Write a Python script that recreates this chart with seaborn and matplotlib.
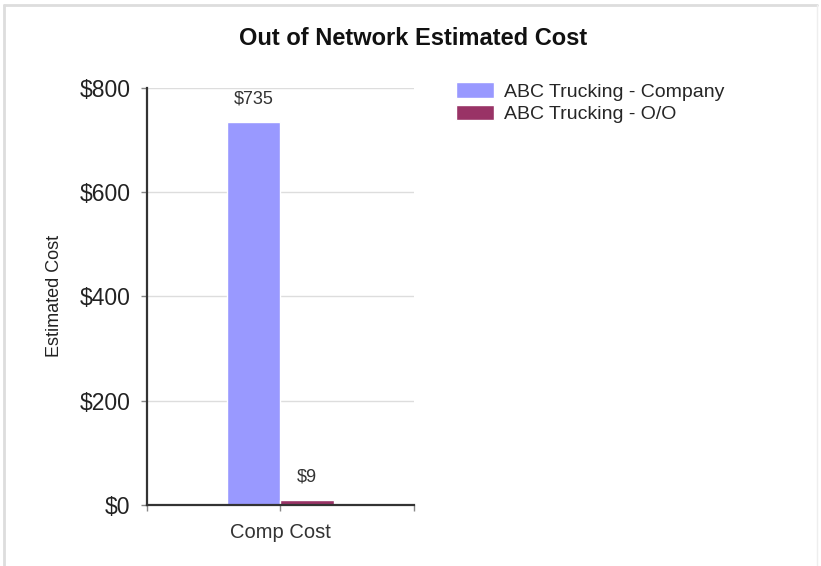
import matplotlib
matplotlib.use("Agg")
import matplotlib.pyplot as plt
from matplotlib.lines import Line2D
import pandas as pd
import seaborn as sns

# ==============================
# DADOS
# ==============================
categories = ["Comp Cost"]
series = ["ABC Trucking - Company", "ABC Trucking - O/O"]
values = [735, 9]
colors = ["#9999FF", "#993366"]
y_ticks = [0, 200, 400, 600, 800]

df = pd.DataFrame({
    "category": categories * len(series),
    "series": series,
    "cost": values,
})

# ==============================
# FIGURA
# ==============================
sns.set_style("white")
plt.rcParams["font.family"] = ["Liberation Sans", "DejaVu Sans"]

fig = plt.figure(figsize=(8.21, 5.66), dpi=100)
ax = fig.add_axes([0.179, 0.108, 0.325, 0.737])

sns.barplot(data=df, x="category", y="cost", hue="series",
            palette=colors, width=0.4, saturation=1, ax=ax)

for bar, v in zip(ax.patches, values):
    ax.text(bar.get_x() + bar.get_width() / 2, v + 28, f"${v}",
            ha="center", va="bottom", fontsize=13, color="#333333")

ax.set_xlim(-0.5, 0.5)
ax.set_ylim(0, 800)
ax.set_yticks(y_ticks)
ax.set_yticklabels([f"${t}" for t in y_ticks], fontsize=16.5, color="#222222")
ax.set_xticks([-0.5, 0, 0.5])
ax.set_xticklabels(["", "Comp Cost", ""], fontsize=14.5, color="#333333")
ax.tick_params(axis="both", length=4, width=1, color="#888888", direction="out",
               bottom=True, left=True)
ax.tick_params(axis="x", pad=9)
ax.tick_params(axis="y", pad=8)
ax.set_xlabel("")
ax.set_ylabel("Estimated Cost", fontsize=13, color="#222222", labelpad=12)
ax.yaxis.grid(True, color="#dddddd", linewidth=1)
ax.set_axisbelow(True)
for side in ["top", "right"]:
    ax.spines[side].set_visible(False)
for side in ["left", "bottom"]:
    ax.spines[side].set_color("#333333")
    ax.spines[side].set_linewidth(1.6)

leg = ax.legend(loc="upper left", bbox_to_anchor=(0.546, 0.868),
                bbox_transform=fig.transFigure, frameon=False,
                fontsize=14, handlelength=1.95, handleheight=0.85,
                handletextpad=0.5, labelspacing=0.2, borderaxespad=0)

fig.suptitle("Out of Network Estimated Cost", x=0.503, y=0.952,
             fontsize=17, fontweight="bold", color="#111111")

# moldura cinza
fig.add_artist(Line2D([0.005, 0.995], [0.991, 0.991], color="#dddddd",
                      lw=2, transform=fig.transFigure))
fig.add_artist(Line2D([0.005, 0.005], [0.0, 0.991], color="#dddddd",
                      lw=2, transform=fig.transFigure))
fig.add_artist(Line2D([0.995, 0.995], [0.0, 0.991], color="#eeeeee",
                      lw=1, transform=fig.transFigure))

fig.savefig("out.png", dpi=100)
